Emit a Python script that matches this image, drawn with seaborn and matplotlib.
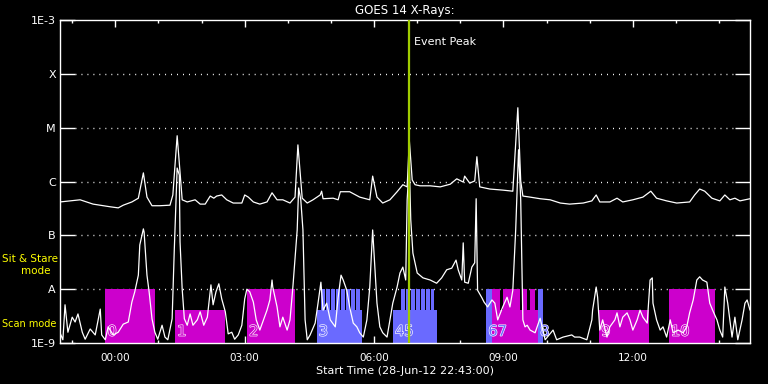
import numpy as np
import pandas as pd
import matplotlib
matplotlib.use("Agg")
import matplotlib.pyplot as plt
import matplotlib.patheffects as pe
import seaborn as sns

sns.set_style("dark")
plt.rcParams['font.family'] = ['DejaVu Sans']

# time axis: minutes after start time 28-Jun-12 22:43:00
# GOES long channel (1-8 A), log10 flux
long_t = [0, 28, 46, 70, 81, 88, 100, 109, 116, 121, 128, 139, 153, 157, 163, 170, 177, 188,
          195, 202, 209, 214, 218, 225, 232, 241, 253, 257, 262, 269, 278, 288, 295, 302, 310,
          320, 327, 331, 337, 344, 352, 362, 364, 366, 380, 387, 390, 403, 417, 431, 435, 441,
          449, 459, 469, 477, 483, 486, 490, 494, 501, 515, 529, 543, 552, 561, 563, 570, 577,
          580, 584, 598, 616, 630, 637, 641, 644, 654, 668, 682, 696, 709, 728, 740, 746, 751,
          765, 775, 783, 797, 811, 822, 830, 844, 858, 876, 883, 890, 897, 907, 918, 925, 932,
          939, 946, 960]
long_log = [-6.38, -6.34, -6.42, -6.47, -6.49, -6.44, -6.38, -6.31, -5.84, -6.29, -6.45, -6.45,
            -6.44, -6.25, -5.15, -6.34, -6.38, -6.34, -6.42, -6.42, -6.27, -6.31, -6.27, -6.25,
            -6.34, -6.40, -6.40, -6.25, -6.29, -6.38, -6.42, -6.38, -6.21, -6.34, -6.34, -6.40,
            -6.29, -5.32, -6.31, -6.40, -6.34, -6.25, -6.18, -6.32, -6.31, -6.34, -6.19, -6.19,
            -6.29, -6.34, -5.90, -6.29, -6.40, -6.34, -6.19, -6.06, -6.10, -5.23, -5.97, -6.06,
            -6.08, -6.08, -6.10, -6.05, -5.95, -6.01, -5.90, -6.03, -5.99, -5.54, -6.10, -6.14,
            -6.16, -6.18, -4.63, -5.99, -6.27, -6.29, -6.32, -6.34, -6.40, -6.42, -6.40, -6.36,
            -6.25, -6.38, -6.38, -6.31, -6.38, -6.34, -6.29, -6.18, -6.31, -6.36, -6.40, -6.38,
            -6.25, -6.14, -6.18, -6.31, -6.36, -6.25, -6.34, -6.31, -6.36, -6.32]

# GOES short channel (0.5-4 A), log10 flux
short_t = [0, 4, 7, 11, 17, 21, 25, 31, 35, 42, 49, 56, 58, 63, 67, 74, 81, 88, 95, 100, 104,
           109, 111, 116, 117, 121, 124, 128, 132, 136, 142, 146, 150, 156, 159, 163, 166, 167,
           170, 173, 177, 181, 185, 191, 195, 200, 205, 210, 213, 217, 221, 225, 230, 234, 239,
           243, 248, 253, 257, 260, 264, 269, 273, 278, 288, 292, 295, 296, 302, 306, 310, 316,
           320, 324, 330, 332, 335, 338, 341, 344, 348, 355, 359, 363, 366, 371, 376, 383, 387,
           391, 394, 399, 403, 408, 413, 417, 422, 427, 431, 435, 438, 441, 445, 449, 455, 459,
           463, 469, 473, 477, 481, 483, 486, 488, 491, 497, 505, 515, 524, 531, 538, 545, 551,
           554, 559, 561, 563, 568, 573, 577, 579, 581, 587, 590, 595, 601, 605, 609, 616, 622,
           626, 630, 634, 638, 641, 643, 644, 647, 650, 654, 661, 668, 675, 686, 691, 700, 712,
           716, 723, 733, 740, 741, 746, 748, 751, 755, 761, 765, 772, 775, 779, 783, 789, 793,
           797, 803, 807, 811, 817, 821, 824, 825, 830, 835, 839, 844, 849, 853, 860, 867, 872,
           876, 881, 886, 890, 894, 900, 904, 908, 914, 918, 922, 925, 929, 935, 939, 943, 949,
           953, 956, 960]
short_log = [-8.81, -8.94, -8.29, -8.80, -8.52, -8.61, -8.46, -8.80, -8.93, -8.74, -8.85, -8.37,
             -8.85, -8.94, -8.70, -8.85, -8.80, -8.65, -8.61, -8.24, -8.05, -7.74, -7.18, -6.88,
             -6.94, -7.74, -8.05, -8.55, -8.80, -8.93, -8.67, -8.89, -8.94, -8.55, -7.27, -5.75,
             -5.88, -7.12, -8.00, -8.55, -8.67, -8.46, -8.67, -8.57, -8.42, -8.67, -8.52, -7.92,
             -8.29, -8.05, -7.90, -8.18, -8.42, -8.83, -8.80, -8.93, -8.85, -8.67, -8.18, -8.00,
             -8.05, -8.24, -8.57, -8.76, -8.39, -8.20, -7.83, -7.96, -8.33, -8.70, -8.52, -8.76,
             -8.57, -7.96, -6.90, -6.12, -6.34, -6.90, -8.57, -8.94, -8.85, -8.63, -8.26, -7.87,
             -8.39, -8.26, -8.57, -8.70, -8.15, -7.74, -7.83, -8.02, -8.33, -8.63, -8.70, -8.81,
             -8.89, -8.57, -7.96, -6.90, -7.59, -8.26, -8.70, -8.81, -8.89, -8.57, -8.26, -7.96,
             -7.70, -7.59, -7.83, -6.34, -5.66, -6.71, -7.33, -7.70, -7.79, -7.83, -7.89, -7.79,
             -7.64, -7.61, -7.46, -7.64, -7.83, -7.14, -7.87, -7.89, -7.59, -7.51, -6.32, -8.02,
             -8.16, -8.24, -8.33, -8.20, -8.26, -8.57, -8.33, -8.15, -8.33, -8.02, -6.90, -5.41,
             -6.34, -7.83, -8.57, -8.70, -8.67, -8.76, -8.81, -8.54, -8.94, -8.76, -8.94, -8.89,
             -8.85, -8.89, -8.89, -8.94, -8.57, -8.39, -7.96, -8.15, -8.76, -8.57, -8.89, -8.70,
             -8.57, -8.44, -8.70, -8.52, -8.44, -8.57, -8.76, -8.57, -8.39, -8.52, -8.63, -7.83,
             -7.79, -8.26, -8.57, -8.76, -8.70, -8.89, -8.57, -8.81, -8.76, -8.81, -8.70, -8.44,
             -8.20, -7.83, -7.77, -7.83, -7.87, -8.26, -8.39, -8.57, -8.76, -8.89, -7.96, -8.26,
             -8.89, -8.52, -8.94, -8.57, -8.26, -8.20, -8.39]

# observations: start / end (minutes), mode, program
obs_start = [63, 160, 260, 357, 363, 370, 377, 384, 391, 398, 405, 412,
             463, 474, 481, 488, 495, 502, 509, 516,
             593, 601, 601, 616, 643, 654, 665, 750, 847]
obs_end = [132, 230, 327, 420, 369, 376, 383, 390, 397, 404, 411, 418,
           524, 480, 487, 494, 501, 508, 515, 521,
           601, 665, 612, 640, 650, 661, 672, 819, 911]
obs_mode = ['stare', 'scan', 'stare', 'scan', 'stare', 'stare', 'stare', 'stare', 'stare',
            'stare', 'stare', 'stare',
            'scan', 'stare', 'stare', 'stare', 'stare', 'stare', 'stare', 'stare',
            'stare', 'scan', 'stare', 'stare', 'stare', 'stare', 'stare', 'scan', 'stare']
obs_prog = ['m', 'm', 'm', 'b', 'b', 'b', 'b', 'b', 'b', 'b', 'b', 'b',
            'b', 'b', 'b', 'b', 'b', 'b', 'b', 'b',
            'b', 'm', 'm', 'm', 'm', 'm', 'b', 'm', 'm']

obs_labels = ['0', '1', '2', '3', '45', '67', '8', '9', '10']
label_t = [63, 160, 260, 357, 463, 593, 665, 750, 847]
label_prog = ['m', 'm', 'm', 'b', 'b', 'b', 'b', 'm', 'm']

event_peak = 485
tick_t = [77, 257, 437, 617, 797]
tick_labels = ['00:00', '03:00', '06:00', '09:00', '12:00']
class_levels = [1e-9, 1e-8, 1e-7, 1e-6, 1e-5, 1e-4, 1e-3]
class_labels = ['1E-9', 'A', 'B', 'C', 'M', 'X', '1E-3']

prog_colors = {'m': '#cc00cc', 'b': '#6a6aff'}
mode_top = {'stare': 1e-8, 'scan': 10 ** -8.39}

fig = plt.figure(figsize=(7.68, 3.84), dpi=100, facecolor='black')
ax = fig.add_axes([60 / 768, 41 / 384, 690 / 768, 323 / 384])
ax.set_facecolor('black')
ax.set_yscale('log')

# dotted level lines
for lev in class_levels[1:-1]:
    ax.axhline(lev, xmin=15 / 690, xmax=675 / 690, color='white', lw=1,
               ls=(0, (0.7, 3.6)), zorder=0.5)

# observation bars
for s, e, m, p in zip(obs_start, obs_end, obs_mode, obs_prog):
    ax.bar(s, mode_top[m] - 1e-9, width=e - s, bottom=1e-9, align='edge',
           color=prog_colors[p], linewidth=0, zorder=1, antialiased=False)

for lab, t, p in zip(obs_labels, label_t, label_prog):
    ax.text(t + 3, 1.2e-9, lab, color=prog_colors[p], fontsize=10.5, ha='left', va='bottom',
            zorder=1.5, path_effects=[pe.withStroke(linewidth=0.9, foreground='white')])

goes = pd.concat([
    pd.DataFrame({'t': long_t, 'flux': 10 ** np.array(long_log), 'ch': 'long'}),
    pd.DataFrame({'t': short_t, 'flux': 10 ** np.array(short_log), 'ch': 'short'}),
])
sns.lineplot(data=goes, x='t', y='flux', units='ch', estimator=None, color='white',
             lw=0.9, ax=ax, zorder=2, legend=False)

ax.axvline(event_peak, color='#a0cc00', lw=1.6, zorder=3)
ax.text(event_peak + 7, 10 ** -3.4, 'Event Peak', color='white', fontsize=8,
        ha='left', va='center')

ax.set_xlim(0, 960)
ax.set_ylim(1e-9, 1e-3)
ax.set_xticks(tick_t)
ax.set_xticklabels(tick_labels)
ax.set_xticks([17 + 60 * i for i in range(16)], minor=True)
ax.set_yticks(class_levels)
ax.set_yticklabels(class_labels)
ax.yaxis.set_minor_locator(matplotlib.ticker.NullLocator())
ax.tick_params(axis='x', which='major', direction='in', length=5, width=1, color='white',
               top=True, bottom=True, labelcolor='white', labelsize=7.5, pad=7)
ax.tick_params(axis='x', which='minor', direction='in', length=2.5, width=1, color='white',
               top=True, bottom=True)
ax.tick_params(axis='y', which='major', direction='in', length=10.8, width=1, color='white',
               left=True, right=True, labelcolor='white', labelsize=8, pad=3)
for sp in ax.spines.values():
    sp.set_color('white')
    sp.set_linewidth(1)
ax.grid(False)

ax.set_title('GOES 14 X-Rays:', color='white', fontsize=8.5, pad=4)
ax.set_xlabel('Start Time (28-Jun-12 22:43:00)', color='white', fontsize=8, labelpad=2)
ax.set_ylabel('')

fig.text(2 / 768, 1 - 259 / 384, 'Sit & Stare', color='yellow', fontsize=7.5, ha='left',
         va='center')
fig.text(36 / 768, 1 - 271 / 384, 'mode', color='yellow', fontsize=7.5, ha='center',
         va='center')
fig.text(2 / 768, 1 - 324 / 384, 'Scan mode', color='yellow', fontsize=7, ha='left',
         va='center')

fig.savefig('out.png', dpi=100, facecolor='black')
